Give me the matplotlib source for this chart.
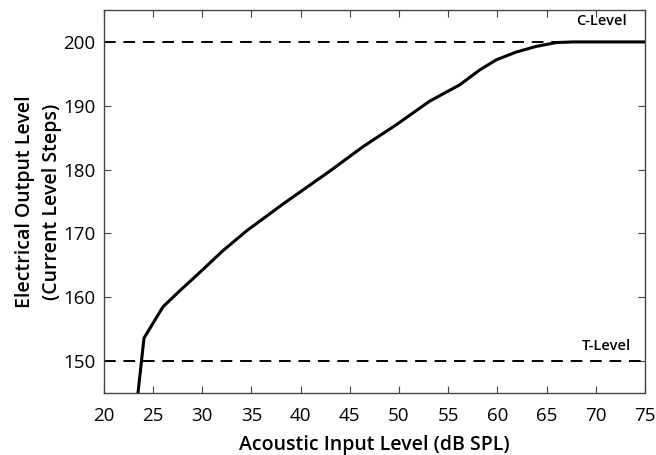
import matplotlib
matplotlib.use("Agg")
import matplotlib.pyplot as plt

x_vals = [23.46, 24.07, 26.0, 27.7, 30.1, 32.1, 34.5, 38.2, 43.0, 46.35, 49.7, 53.1, 56.2, 58.2, 59.9, 61.9, 63.96, 66.0, 67.7, 75.0]
y_vals = [145.0, 153.6, 158.5, 161.0, 164.4, 167.3, 170.4, 174.6, 179.8, 183.6, 187.0, 190.7, 193.3, 195.6, 197.2, 198.4, 199.3, 199.9, 200.0, 200.0]
c_level = 200
t_level = 150
x_ticks = [20, 25, 30, 35, 40, 45, 50, 55, 60, 65, 70, 75]
y_ticks = [150, 160, 170, 180, 190, 200]

plt.rcParams['font.family'] = ['Open Sans', 'DejaVu Sans']

fig = plt.figure(figsize=(6.56, 4.55), dpi=100)
ax = fig.add_axes([0.1585, 0.1363, 0.8245, 0.8417])

ax.axhline(c_level, color='black', lw=1.4, ls=(0, (6, 4)))
ax.axhline(t_level, color='black', lw=1.4, ls=(0, (6, 4)))
ax.plot(x_vals, y_vals, color='black', lw=2.2)

ax.text(70.6, 203.3, 'C-Level', ha='center', va='center', fontsize=10.5, fontweight='semibold')
ax.text(71.1, 152.4, 'T-Level', ha='center', va='center', fontsize=10.5, fontweight='semibold')

ax.set_xlim(20, 75)
ax.set_ylim(145, 205)
ax.set_xticks(x_ticks)
ax.set_yticks(y_ticks)
ax.tick_params(direction='in', top=True, right=True, labeltop=False, labelright=False,
               labelsize=13.5, length=5, color='#444444')
ax.tick_params(axis='x', pad=10)
ax.tick_params(axis='y', pad=6)
for s in ax.spines.values():
    s.set_color('#444444')
    s.set_linewidth(1.0)

ax.set_xlabel('Acoustic Input Level (dB SPL)', fontsize=14, fontweight='semibold', va='center')
ax.xaxis.set_label_coords(0.5, -0.137)
ax.set_ylabel('Electrical Output Level\n(Current Level Steps)', fontsize=14, fontweight='semibold',
              linespacing=1.45, va='center')
ax.yaxis.set_label_coords(-0.1205, 0.5)

fig.savefig('out.png', dpi=100)
